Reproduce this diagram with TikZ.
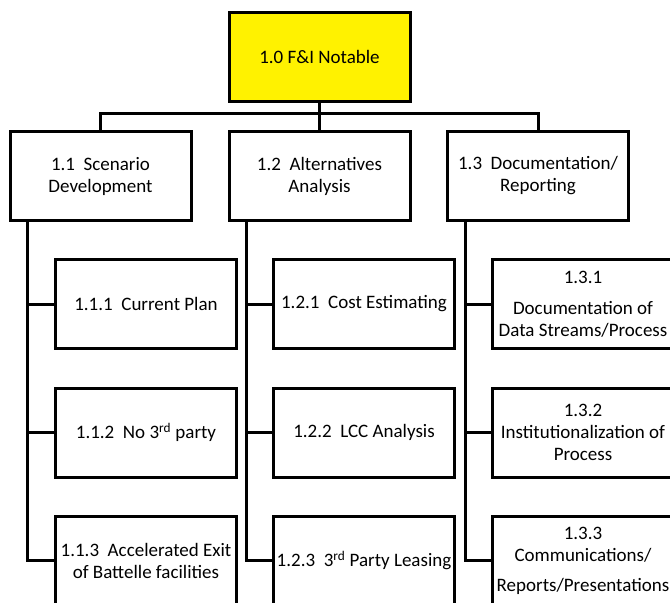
\documentclass[tikz,border=0pt]{standalone}
\usepackage{fontspec}
\setmainfont{Carlito}
\usepackage{tikz}
\usetikzlibrary{shapes,arrows}
\tikzstyle{block} = [rectangle, draw, line width=3pt, text centered, align=center,
    inner sep=0pt, minimum width=181pt, minimum height=89pt, font=\fontsize{19}{22}\selectfont]
\tikzstyle{rootblock} = [block, fill=yellow]
\tikzstyle{line} = [draw, line width=3pt]

\begin{document}
\begin{tikzpicture}[x=1pt, y=1pt, node distance=219pt]
    \useasboundingbox (0,0) rectangle (670,-603);
    \clip (0,0) rectangle (670,-603);
    % Place nodes
    \node [rootblock] at (319.5,-56.5) (notable) {1.0 F\&I Notable};
    \node [block, below of=notable, node distance=119.5pt] (alt) {1.2~~Alternatives\\Analysis};
    \node [block, left of=alt] (scen) {1.1~~Scenario\\Development};
    \node [block, right of=alt, node distance=218.5pt] (doc) {1.3~~Documentation/\\Reporting};

    \node [block, below of=scen, node distance=128pt, xshift=45.5pt] (curplan) {1.1.1~~Current Plan};
    \node [block, below of=curplan, node distance=128.5pt] (no3rd) {1.1.2~~No 3\textsuperscript{rd} party};
    \node [block, below of=no3rd, node distance=128pt] (accel) {1.1.3~~Accelerated Exit\\of Battelle facilities};

    \node [block, right of=curplan, node distance=218pt] (cost) {1.2.1~~Cost Estimating};
    \node [block, right of=no3rd, node distance=218pt] (lcc) {1.2.2~~LCC Analysis};
    \node [block, right of=accel, node distance=218pt] (leasing) {1.2.3~~3\textsuperscript{rd} Party Leasing};

    \node [block, right of=cost, node distance=219pt] (streams) {1.3.1\\[9pt]Documentation of\\Data Streams/Process};
    \node [block, right of=lcc, node distance=219pt] (instit) {1.3.2\\Institutionalization of\\Process};
    \node [block, right of=leasing, node distance=219pt] (comms) {1.3.3\\Communications/\\[8pt]Reports/Presentations};

    % Draw edges
    \path [line] (notable) -- (alt);
    \path [line] (notable.south) -- ++(0,-11) -| (scen.north);
    \path [line] (notable.south) -- ++(0,-11) -| (doc.north);

    \path [line] ([xshift=19pt]scen.south west) |- (curplan.west);
    \path [line] ([xshift=19pt]scen.south west) |- (no3rd.west);
    \path [line] ([xshift=19pt]scen.south west) |- (accel.west);

    \path [line] ([xshift=19pt]alt.south west) |- (cost.west);
    \path [line] ([xshift=19pt]alt.south west) |- (lcc.west);
    \path [line] ([xshift=19pt]alt.south west) |- (leasing.west);

    \path [line] ([xshift=19pt]doc.south west) |- (streams.west);
    \path [line] ([xshift=19pt]doc.south west) |- (instit.west);
    \path [line] ([xshift=19pt]doc.south west) |- (comms.west);
\end{tikzpicture}
\end{document}
